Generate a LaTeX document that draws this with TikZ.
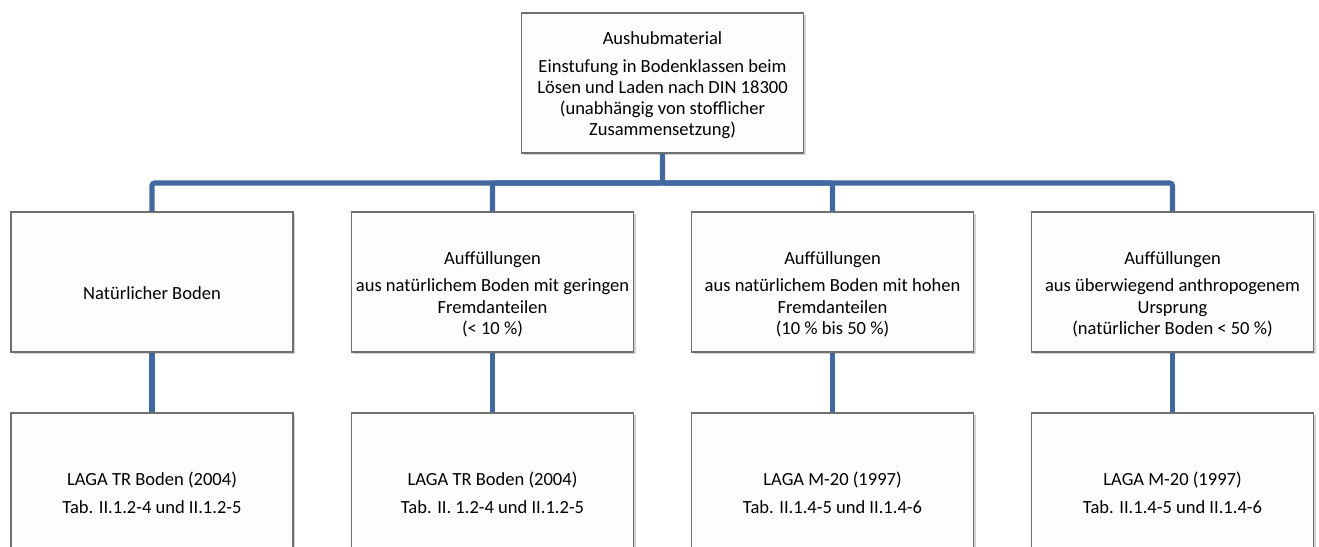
\documentclass[tikz,border=0pt]{standalone}
\usepackage{fontspec}
\setmainfont{Carlito}
\usetikzlibrary{shadows}
\definecolor{conn}{RGB}{65,105,160}
\definecolor{boxline}{RGB}{112,112,112}
\definecolor{boxfill}{RGB}{253,253,253}
\tikzset{
  x=0.75pt, y=-0.75pt,
  box/.style={draw=boxline, line width=0.8pt, fill=boxfill, minimum width=211.5pt, minimum height=105pt, inner sep=0pt,
    drop shadow={shadow xshift=1.5pt, shadow yshift=-1.8pt, opacity=0.35, fill=black!50}},
  txt/.style={align=center, inner sep=0pt, font=\fontsize{13.9}{15.8}\selectfont, text=black},
  link/.style={draw=conn, line width=3.8pt, rounded corners=2pt}
}
\begin{document}
\begin{tikzpicture}
\clip (0,0) rectangle (1319,546);
\fill[white] (0,0) rectangle (1319,546);
% level 1
\node[box] (top) at (662.5,83) {};
% level 2
\node[box] (a2) at (152,282) {};
\node[box] (b2) at (492.5,282) {};
\node[box] (c2) at (832.5,282) {};
\node[box] (d2) at (1172.5,282) {};
% level 3
\node[box] (a3) at (152,483) {};
\node[box] (b3) at (492.5,483) {};
\node[box] (c3) at (832.5,483) {};
\node[box] (d3) at (1172.5,483) {};
% connectors
\coordinate (bar) at (662.5,183);
\draw[link] (top.south) -- (bar) -| (a2.north);
\draw[link] (bar) -| (b2.north);
\draw[link] (bar) -| (c2.north);
\draw[link] (bar) -| (d2.north);
\draw[link] (a2.south) -- (a3.north);
\draw[link] (b2.south) -- (b3.north);
\draw[link] (c2.south) -- (c3.north);
\draw[link] (d2.south) -- (d3.north);
% texts
\node[txt] (ttop) at (662.5,85) {Aushubmaterial\\[5pt]Einstufung in Bodenklassen beim\\Lösen und Laden nach DIN 18300\\(unabhängig von stofflicher\\Zusammensetzung)};
\node[txt] (ta2) at (152,293) {Natürlicher Boden};
\node[txt] (tb2) at (492.5,294) {Auffüllungen\\[5pt]aus natürlichem Boden mit geringen\\Fremdanteilen\\(< 10 \%)};
\node[txt] (tc2) at (832.5,294) {Auffüllungen\\[5pt]aus natürlichem Boden mit hohen\\Fremdanteilen\\(10 \% bis 50 \%)};
\node[txt] (td2) at (1172.5,294) {Auffüllungen\\[5pt]aus überwiegend anthropogenem\\Ursprung\\(natürlicher Boden < 50 \%)};
\node[txt] (ta3) at (152,493) {LAGA TR Boden (2004)\\[5pt]Tab. II.1.2-4 und II.1.2-5};
\node[txt] (tb3) at (492.5,493) {LAGA TR Boden (2004)\\[5pt]Tab. II. 1.2-4 und II.1.2-5};
\node[txt] (tc3) at (832.5,493) {LAGA M-20 (1997)\\[5pt]Tab. II.1.4-5 und II.1.4-6};
\node[txt] (td3) at (1172.5,493) {LAGA M-20 (1997)\\[5pt]Tab. II.1.4-5 und II.1.4-6};
\end{tikzpicture}
\end{document}
